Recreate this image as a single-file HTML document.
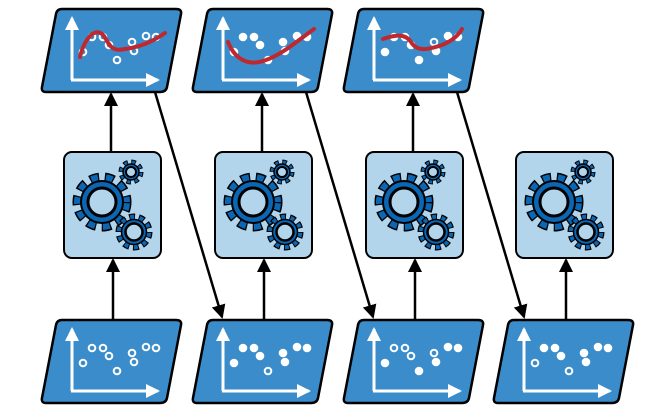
<!DOCTYPE html>
<html><head><style>html,body{margin:0;padding:0;background:#fff;width:646px;height:409px;overflow:hidden}</style></head>
<body>
<svg width="646" height="409" viewBox="0 0 646 409" xmlns="http://www.w3.org/2000/svg">
<defs>
<marker id="ah" markerWidth="14" markerHeight="14" refX="12" refY="7" orient="auto" markerUnits="userSpaceOnUse">
<path d="M0,0 L14,7 L0,14 z" fill="#000"/></marker>
<marker id="wh" markerWidth="14" markerHeight="14" refX="12" refY="7" orient="auto" markerUnits="userSpaceOnUse">
<path d="M0,0 L14,7 L0,14 z" fill="#fff"/></marker>
<g id="chart">
<path d="M62,9 L176,9 Q182,9 181,14 L167,87 Q166,92 160,92 L46,92 Q41,92 42,87 L56,14 Q57,9 62,9 Z" fill="#3a8dca" stroke="#000" stroke-width="2.5"/>
<path d="M72,80 L72,18" stroke="#fff" stroke-width="3" marker-end="url(#wh)"/>
<path d="M71,80 L158,80" stroke="#fff" stroke-width="3" marker-end="url(#wh)"/>
</g>
<g id="gears">
<circle cx="102" cy="202" r="24" fill="none" stroke="#000" stroke-width="11" stroke-dasharray="9 5.45"/>
<circle cx="102" cy="202" r="24" fill="none" stroke="#0b66b4" stroke-width="8" stroke-dasharray="6.6 7.85" stroke-dashoffset="-1.2"/>
<circle cx="102" cy="202" r="21" fill="#0b66b4" stroke="#000" stroke-width="2"/>
<circle cx="102" cy="202" r="14" fill="#b2d5ec" stroke="#000" stroke-width="3"/>
<circle cx="131" cy="172" r="9.5" fill="none" stroke="#000" stroke-width="6" stroke-dasharray="4.2 3.26"/>
<circle cx="131" cy="172" r="9.5" fill="none" stroke="#0b66b4" stroke-width="4" stroke-dasharray="2.6 4.86" stroke-dashoffset="-0.8"/>
<circle cx="131" cy="172" r="8" fill="#0b66b4" stroke="#000" stroke-width="1.5"/>
<circle cx="131" cy="172" r="5" fill="#b2d5ec" stroke="#000" stroke-width="2"/>
<circle cx="134" cy="232" r="14.5" fill="none" stroke="#000" stroke-width="8" stroke-dasharray="5.5 3.6"/>
<circle cx="134" cy="232" r="14.5" fill="none" stroke="#0b66b4" stroke-width="5.5" stroke-dasharray="3.7 5.4" stroke-dashoffset="-0.9"/>
<circle cx="134" cy="232" r="12.5" fill="#0b66b4" stroke="#000" stroke-width="1.5"/>
<circle cx="134" cy="232" r="8.5" fill="#b2d5ec" stroke="#000" stroke-width="2.5"/>
</g>
<g id="box">
<rect x="64" y="152" width="97" height="106" rx="8" fill="#b2d5ec" stroke="#000" stroke-width="2"/>
<use href="#gears"/>
</g>
</defs>

<g>
<use href="#chart"/>
<g stroke="#fff" stroke-width="2" fill="#3a8dca">
<circle cx="83" cy="52" r="3.3"/><circle cx="92" cy="37" r="3.3"/><circle cx="103" cy="37" r="3.3"/><circle cx="109" cy="45" r="3.3"/><circle cx="117" cy="60" r="3.3"/><circle cx="132" cy="42" r="3.3"/><circle cx="134" cy="51" r="3.3"/><circle cx="146" cy="36" r="3.3"/><circle cx="156" cy="37" r="3.3"/>
</g>
<path d="M80,57 C84,40 95,25 104,36 C110,46 112,52 125,49 C140,47 152,42 165,33" stroke="#c0282f" stroke-width="4" fill="none" stroke-linecap="round"/>
<use href="#box"/>
<g transform="translate(0,311)"><use href="#chart"/>
<g stroke="#fff" stroke-width="2" fill="#3a8dca">
<circle cx="83" cy="52" r="3.3"/><circle cx="92" cy="37" r="3.3"/><circle cx="103" cy="37" r="3.3"/><circle cx="109" cy="45" r="3.3"/><circle cx="117" cy="60" r="3.3"/><circle cx="132" cy="42" r="3.3"/><circle cx="134" cy="51" r="3.3"/><circle cx="146" cy="36" r="3.3"/><circle cx="156" cy="37" r="3.3"/>
</g></g>
</g>

<g transform="translate(151,0)">
<use href="#chart"/>
<g fill="#fff" stroke="#fff" stroke-width="2">
<circle cx="83" cy="52" r="3.3"/><circle cx="92" cy="37" r="3.3"/><circle cx="103" cy="37" r="3.3"/><circle cx="109" cy="45" r="3.3"/><circle cx="117" cy="60" r="3.3"/><circle cx="132" cy="42" r="3.3"/><circle cx="134" cy="51" r="3.3"/><circle cx="146" cy="36" r="3.3"/><circle cx="156" cy="37" r="3.3"/>
</g>
<path d="M77,42 C85,62 100,66 115,60 C130,55 145,42 163,29" stroke="#c0282f" stroke-width="4" fill="none" stroke-linecap="round"/>
<use href="#box"/>
<g transform="translate(0,311)"><use href="#chart"/>
<g fill="#fff" stroke="#fff" stroke-width="2">
<circle cx="83" cy="52" r="3.3"/><circle cx="92" cy="37" r="3.3"/><circle cx="103" cy="37" r="3.3"/><circle cx="109" cy="45" r="3.3"/><circle cx="132" cy="42" r="3.3"/><circle cx="134" cy="51" r="3.3"/><circle cx="146" cy="36" r="3.3"/><circle cx="156" cy="37" r="3.3"/>
</g>
<circle cx="117" cy="60" r="3.3" fill="#3a8dca" stroke="#fff" stroke-width="2"/>
</g>
</g>

<g transform="translate(302,0)">
<use href="#chart"/>
<g fill="#fff" stroke="#fff" stroke-width="2">
<circle cx="83" cy="52" r="3.3"/><circle cx="92" cy="37" r="3.3"/><circle cx="103" cy="37" r="3.3"/><circle cx="109" cy="45" r="3.3"/><circle cx="117" cy="60" r="3.3"/><circle cx="134" cy="51" r="3.3"/><circle cx="146" cy="36" r="3.3"/><circle cx="156" cy="37" r="3.3"/>
</g>
<circle cx="132" cy="42" r="3.3" fill="#3a8dca" stroke="#fff" stroke-width="2"/>
<path d="M81,39 C92,35 103,33 109,42 C115,52 125,50 140,45 C150,41 156,36 160,29" stroke="#c0282f" stroke-width="4" fill="none" stroke-linecap="round"/>
<use href="#box"/>
<g transform="translate(0,311)"><use href="#chart"/>
<g fill="#fff" stroke="#fff" stroke-width="2">
<circle cx="83" cy="52" r="3.3"/><circle cx="117" cy="60" r="3.3"/><circle cx="134" cy="51" r="3.3"/><circle cx="146" cy="36" r="3.3"/><circle cx="156" cy="37" r="3.3"/>
</g>
<g fill="#3a8dca" stroke="#fff" stroke-width="2">
<circle cx="92" cy="37" r="3.3"/><circle cx="103" cy="37" r="3.3"/><circle cx="109" cy="45" r="3.3"/><circle cx="132" cy="42" r="3.3"/>
</g></g>
</g>

<g transform="translate(452,0)">
<use href="#box"/>
<g transform="translate(0,311)"><use href="#chart"/>
<g fill="#fff" stroke="#fff" stroke-width="2">
<circle cx="92" cy="37" r="3.3"/><circle cx="103" cy="37" r="3.3"/><circle cx="109" cy="45" r="3.3"/><circle cx="132" cy="42" r="3.3"/><circle cx="134" cy="51" r="3.3"/><circle cx="146" cy="36" r="3.3"/><circle cx="156" cy="37" r="3.3"/>
</g>
<g fill="#3a8dca" stroke="#fff" stroke-width="2">
<circle cx="83" cy="52" r="3.3"/><circle cx="117" cy="60" r="3.3"/>
</g></g>
</g>

<g stroke="#000" stroke-width="2.5" fill="none">
<path d="M111,152 L111,94" marker-end="url(#ah)"/>
<path d="M262,152 L262,94" marker-end="url(#ah)"/>
<path d="M413,152 L413,94" marker-end="url(#ah)"/>
<path d="M113,320 L113,260" marker-end="url(#ah)"/>
<path d="M264,320 L264,260" marker-end="url(#ah)"/>
<path d="M415,320 L415,260" marker-end="url(#ah)"/>
<path d="M566,320 L566,260" marker-end="url(#ah)"/>
<path d="M155,92 L222,317" marker-end="url(#ah)"/>
<path d="M306,92 L373,317" marker-end="url(#ah)"/>
<path d="M457,92 L524,317" marker-end="url(#ah)"/>
</g>
</svg>
</body></html>
